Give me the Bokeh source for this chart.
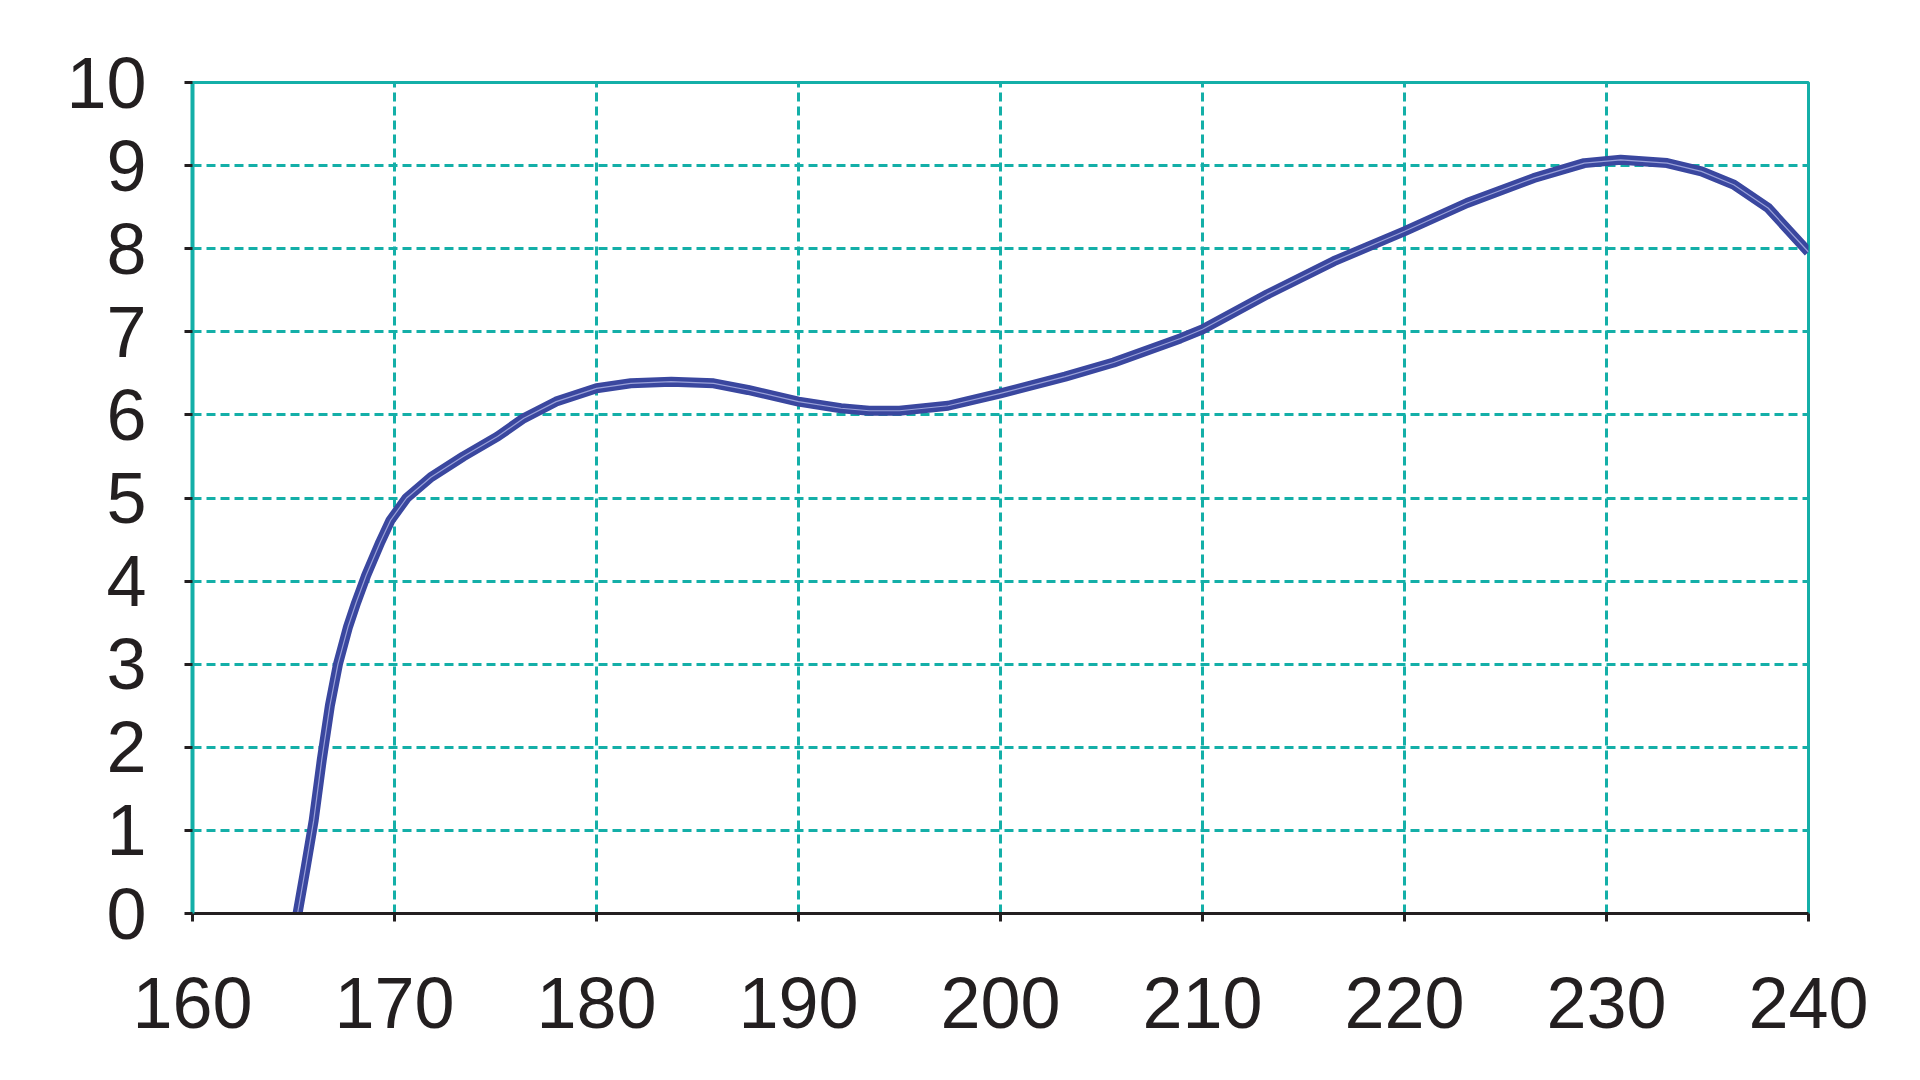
from bokeh.plotting import figure
from bokeh.models import Range1d, FixedTicker
from bokeh.embed import file_html
from bokeh.resources import INLINE

x_vals = [165.2, 165.6, 166.0, 166.4, 166.8, 167.2, 167.7, 168.1, 168.6, 169.3, 169.8,
          170.6, 171.8, 173.4, 175.1, 176.4, 178.0, 180.0, 181.7, 183.7, 185.8, 187.5,
          190.0, 192.1, 193.5, 195.0, 197.4, 200.0, 203.2, 205.6, 208.9, 210.0, 213.2,
          216.5, 220.0, 223.1, 226.4, 228.9, 230.7, 233.0, 234.7, 236.3, 238.0, 240.0]
y_vals = [0.0, 0.55, 1.12, 1.85, 2.5, 3.0, 3.45, 3.74, 4.07, 4.47, 4.73,
          5.0, 5.25, 5.5, 5.74, 5.96, 6.16, 6.32, 6.38, 6.40, 6.38, 6.30,
          6.16, 6.08, 6.05, 6.05, 6.11, 6.26, 6.46, 6.63, 6.92, 7.03, 7.45,
          7.85, 8.21, 8.55, 8.85, 9.03, 9.07, 9.03, 8.93, 8.77, 8.49, 7.96]
x_ticks = [160, 170, 180, 190, 200, 210, 220, 230, 240]
y_ticks = [0, 1, 2, 3, 4, 5, 6, 7, 8, 9, 10]

TEAL = "#14afa8"
BLUE = "#3a479f"

p = figure(frame_width=1616, frame_height=831, output_backend="svg", toolbar_location=None,
           x_range=Range1d(160, 240), y_range=Range1d(0, 10),
           min_border_left=192, min_border_top=82, min_border_bottom=150, min_border_right=100)
p.background_fill_color = "white"
p.border_fill_color = "white"
p.outline_line_color = TEAL
p.outline_line_width = 3

for ax in (p.xaxis[0], p.yaxis[0]):
    ax.major_label_text_font = "Liberation Sans"
    ax.major_label_text_font_size = "72px"
    ax.major_label_text_color = "#231f20"
    ax.major_tick_line_color = "#231f20"
    ax.major_tick_line_width = 3
    ax.major_tick_out = 8
    ax.major_tick_in = 0
    ax.minor_tick_line_color = None
p.xaxis.major_label_standoff = 56
p.yaxis.major_label_standoff = 38

p.xaxis.ticker = FixedTicker(ticks=x_ticks)
p.yaxis.ticker = FixedTicker(ticks=y_ticks)
p.xaxis.axis_line_color = "#231f20"
p.xaxis.axis_line_width = 3
p.yaxis.axis_line_color = TEAL
p.yaxis.axis_line_width = 4

p.xgrid.ticker = FixedTicker(ticks=x_ticks)
p.ygrid.ticker = FixedTicker(ticks=y_ticks)
for g in (p.xgrid[0], p.ygrid[0]):
    g.grid_line_color = TEAL
    g.grid_line_width = 3
    g.grid_line_dash = "9 5"

p.line(x_vals, y_vals, line_color=BLUE, line_width=10, line_join="round")
p.line(x_vals, y_vals, line_color="#9aa1d8", line_width=1.2, line_join="round")

open("out.html", "w").write(file_html(p, INLINE))
